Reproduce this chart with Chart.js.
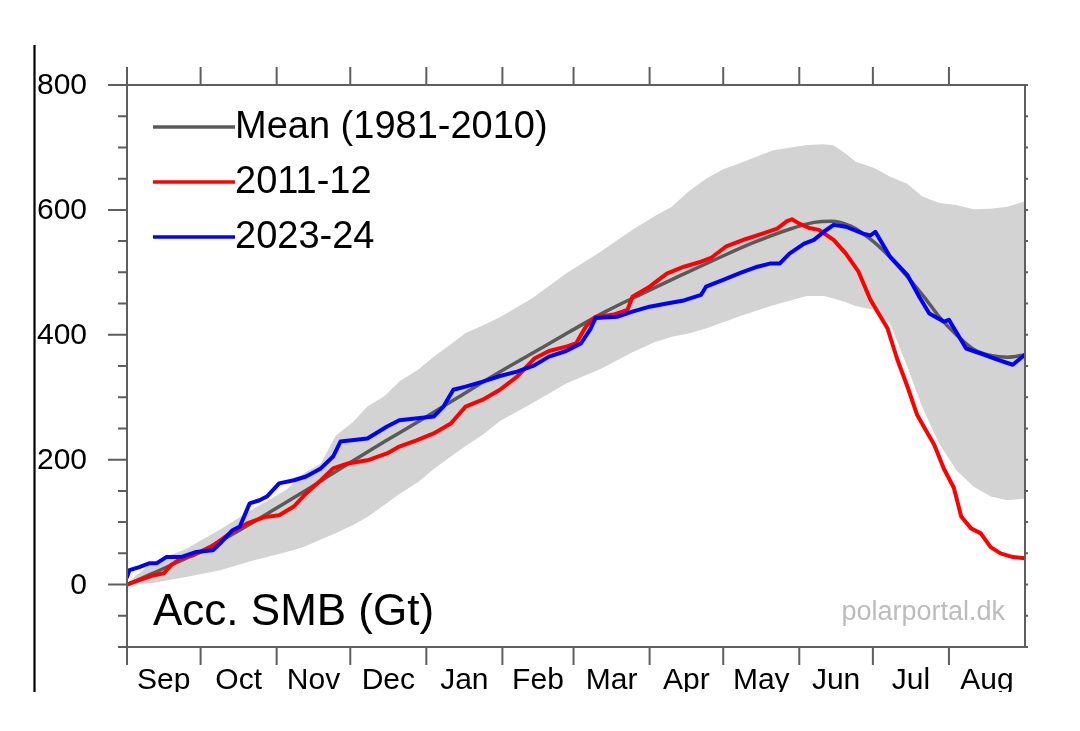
<!DOCTYPE html>
<html>
<head>
<meta charset="utf-8">
<title>Acc. SMB (Gt)</title>
<script src="https://cdn.jsdelivr.net/npm/chart.js@4.4.1/dist/chart.umd.min.js"></script>
<style>
    html, body { margin: 0; padding: 0; background: #fff; }
    #wrap { width: 1080px; height: 731px; }
</style>
</head>
<body>
<div id="wrap"><canvas id="smbChart" width="1080" height="731"></canvas></div>
<script>
// season runs 1 Sep -> 31 Aug, x is the day of the season
const monthNames = ['Sep', 'Oct', 'Nov', 'Dec', 'Jan', 'Feb', 'Mar', 'Apr', 'May', 'Jun', 'Jul', 'Aug'];
const monthLengths = [30, 31, 30, 31, 31, 29, 31, 30, 31, 30, 31, 31];
const yTickValues = [0, 200, 400, 600, 800];

// mean 1981-2010
const meanDays = [0, 10, 20, 30, 45, 60, 75, 90, 105, 120, 135, 150, 165, 180, 195, 210, 225, 240, 255, 270, 280, 287, 295, 303, 310, 318, 325, 331, 338, 345, 352, 359, 366];
const meanValues = [0, 17, 35, 53, 85, 120, 156, 193, 229, 264, 300, 336, 370, 404, 437, 466, 494, 521, 547, 569, 580, 582, 574, 553, 528, 493, 460, 429, 400, 377, 367, 364, 368];

// grey range band
const bandDays = [0, 10, 24, 38, 51, 65, 72, 79, 85, 92, 98, 105, 111, 119, 125, 132, 138, 145, 152, 165, 179, 193, 206, 215, 222, 229, 236, 243, 250, 263, 277, 284, 288, 293, 297, 304, 307, 311, 318, 324, 331, 338, 345, 352, 359, 366];
const bandUpper = [2, 35, 57, 88, 120, 152, 178, 194, 238, 260, 285, 302, 325, 345, 365, 385, 403, 415, 428, 458, 498, 533, 568, 590, 605, 630, 650, 665, 675, 695, 704, 705, 703, 690, 677, 668, 662, 653, 642, 622, 611, 608, 601, 602, 605, 614];
const bandLower = [0, 2, 12, 23, 38, 52, 60, 72, 82, 95, 108, 128, 145, 165, 185, 205, 222, 240, 262, 290, 322, 345, 372, 388, 397, 402, 410, 420, 430, 447, 462, 462, 458, 452, 446, 440, 429, 418, 349, 285, 226, 183, 157, 141, 135, 138];

// 2011-12
const redDays = [0, 5, 11, 15, 18, 22, 27, 34, 37, 42, 49, 56, 62, 68, 73, 79, 84, 90, 98, 106, 111, 118, 125, 132, 138, 145, 152, 159, 166, 172, 179, 183, 187, 191, 198, 204, 206, 213, 220, 227, 234, 238, 244, 252, 259, 265, 269, 271, 274, 278, 282, 288, 293, 298, 303, 310, 314, 318, 322, 329, 333, 337, 340, 344, 348, 352, 356, 361, 366];
const redValues = [0, 7, 15, 18, 31, 42, 47, 60, 68, 82, 98, 108, 111, 125, 146, 167, 186, 194, 199, 210, 221, 231, 242, 258, 285, 296, 312, 333, 362, 374, 381, 386, 413, 429, 432, 440, 461, 477, 498, 509, 517, 523, 541, 553, 562, 570, 582, 585, 578, 571, 568, 552, 530, 502, 456, 410, 360, 318, 272, 224, 185, 155, 109, 90, 82, 60, 50, 44, 42];

// 2023-24
const blueDays = [0, 1, 5, 9, 12, 16, 22, 28, 35, 38, 43, 46, 50, 54, 57, 62, 68, 73, 79, 84, 87, 98, 106, 111, 125, 129, 133, 138, 145, 152, 159, 166, 172, 179, 185, 189, 191, 200, 206, 213, 220, 227, 234, 236, 243, 250, 257, 262, 266, 270, 276, 280, 284, 288, 293, 300, 303, 305, 311, 318, 323, 327, 333, 335, 342, 348, 355, 361, 366];
const blueValues = [12, 23, 28, 34, 34, 44, 44, 52, 55, 66, 87, 93, 130, 135, 141, 162, 167, 173, 186, 205, 229, 234, 253, 263, 269, 285, 312, 317, 325, 334, 341, 351, 365, 374, 386, 410, 427, 429, 437, 445, 450, 455, 464, 477, 488, 499, 509, 514, 514, 530, 546, 552, 565, 576, 573, 562, 559, 565, 525, 496, 460, 434, 421, 424, 378, 370, 360, 352, 368];

const FONT = '"Liberation Sans", Arial, Helvetica, sans-serif';
const AXIS_COLOR = '#5e5e5e';

function toPoints(days, values) {
    return days.map((d, i) => ({ x: d, y: values[i] }));
}

// axes in the NCL style: closed box, month ticks top and bottom, labels between ticks
const frame = {
    id: 'frame',
    afterDatasetsDraw(chart) {
        const { ctx, chartArea: a, scales: { x, y } } = chart;
        ctx.save();
        ctx.strokeStyle = AXIS_COLOR;
        ctx.lineWidth = 2;
        ctx.strokeRect(a.left, a.top, a.right - a.left, a.bottom - a.top);

        ctx.beginPath();
        let day = 0;
        monthLengths.forEach(len => {
            const px = x.getPixelForValue(day);
            ctx.moveTo(px, a.top); ctx.lineTo(px, a.top - 18);
            ctx.moveTo(px, a.bottom); ctx.lineTo(px, a.bottom + 18);
            day += len;
        });
        for (let v = y.min; v <= y.max; v += 50) {
            const py = y.getPixelForValue(v);
            const len = v % 200 === 0 ? 19 : 9;
            ctx.moveTo(a.left, py); ctx.lineTo(a.left - len, py);
            ctx.moveTo(a.right, py); ctx.lineTo(a.right + 3, py);
        }
        ctx.stroke();
        ctx.restore();
    },
    afterDraw(chart) {
        const { ctx, chartArea: a, scales: { x, y } } = chart;
        ctx.save();

        // edge of the cropped screenshot
        ctx.strokeStyle = '#000';
        ctx.lineWidth = 2.2;
        ctx.beginPath();
        ctx.moveTo(34.5, 45); ctx.lineTo(34.5, 692);
        ctx.stroke();

        ctx.fillStyle = '#000';
        ctx.font = '30px ' + FONT;
        ctx.textAlign = 'right';
        ctx.textBaseline = 'middle';
        yTickValues.forEach(v => ctx.fillText(String(v), 87, y.getPixelForValue(v) + 1));

        ctx.save();
        ctx.beginPath();
        ctx.rect(0, 0, 1080, 692);
        ctx.clip();
        ctx.textAlign = 'center';
        ctx.textBaseline = 'alphabetic';
        let day = 0;
        monthLengths.forEach((len, i) => {
            const mid = x.getPixelForValue(day + len / 2);
            ctx.fillText(monthNames[i], mid, 689);
            day += len;
        });
        ctx.restore();

        // legend
        const legendY = [127, 182, 237];
        [2, 3, 4].forEach((idx, i) => {
            const ds = chart.data.datasets[idx];
            ctx.strokeStyle = ds.borderColor;
            ctx.lineWidth = 3.5;
            ctx.beginPath();
            ctx.moveTo(153, legendY[i]); ctx.lineTo(235, legendY[i]);
            ctx.stroke();
            ctx.fillStyle = '#000';
            ctx.font = '38px ' + FONT;
            ctx.textAlign = 'left';
            ctx.textBaseline = 'middle';
            ctx.fillText(ds.label, 235, legendY[i] + 1);
        });

        ctx.fillStyle = '#000';
        ctx.font = '44px ' + FONT;
        ctx.textAlign = 'left';
        ctx.textBaseline = 'alphabetic';
        ctx.fillText('Acc. SMB (Gt)', 153, 625);

        ctx.fillStyle = '#bcbcbc';
        ctx.font = '27px ' + FONT;
        ctx.textAlign = 'right';
        ctx.fillText('polarportal.dk', 1005, 620);
        ctx.restore();
    }
};

const ctx = document.getElementById('smbChart').getContext('2d');

new Chart(ctx, {
    type: 'line',
    data: {
        datasets: [
            {
                label: 'range low',
                data: toPoints(bandDays, bandLower),
                borderColor: 'rgba(0,0,0,0)',
                borderWidth: 0,
                fill: false,
                order: 4
            },
            {
                label: 'range high',
                data: toPoints(bandDays, bandUpper),
                borderColor: 'rgba(0,0,0,0)',
                borderWidth: 0,
                backgroundColor: '#d3d3d3',
                fill: '-1',
                order: 3
            },
            {
                label: 'Mean (1981-2010)',
                data: toPoints(meanDays, meanValues),
                borderColor: '#5a5a5a',
                borderWidth: 3.5,
                cubicInterpolationMode: 'monotone',
                fill: false,
                order: 2
            },
            {
                label: '2011-12',
                data: toPoints(redDays, redValues),
                borderColor: '#ff0000',
                borderWidth: 4,
                fill: false,
                order: 1
            },
            {
                label: '2023-24',
                data: toPoints(blueDays, blueValues),
                borderColor: '#0000ff',
                borderWidth: 4,
                fill: false,
                order: 0
            }
        ]
    },
    options: {
        responsive: false,
        animation: false,
        devicePixelRatio: 1,
        layout: { padding: { left: 127, right: 55, top: 85, bottom: 84 } },
        elements: { point: { radius: 0 }, line: { tension: 0, borderJoinStyle: 'round', borderCapStyle: 'round' } },
        plugins: {
            legend: { display: false },
            tooltip: { enabled: false }
        },
        scales: {
            x: { type: 'linear', min: 0, max: 366, display: false },
            y: { type: 'linear', min: -100, max: 800, display: false }
        }
    },
    plugins: [frame]
});
</script>
</body>
</html>
